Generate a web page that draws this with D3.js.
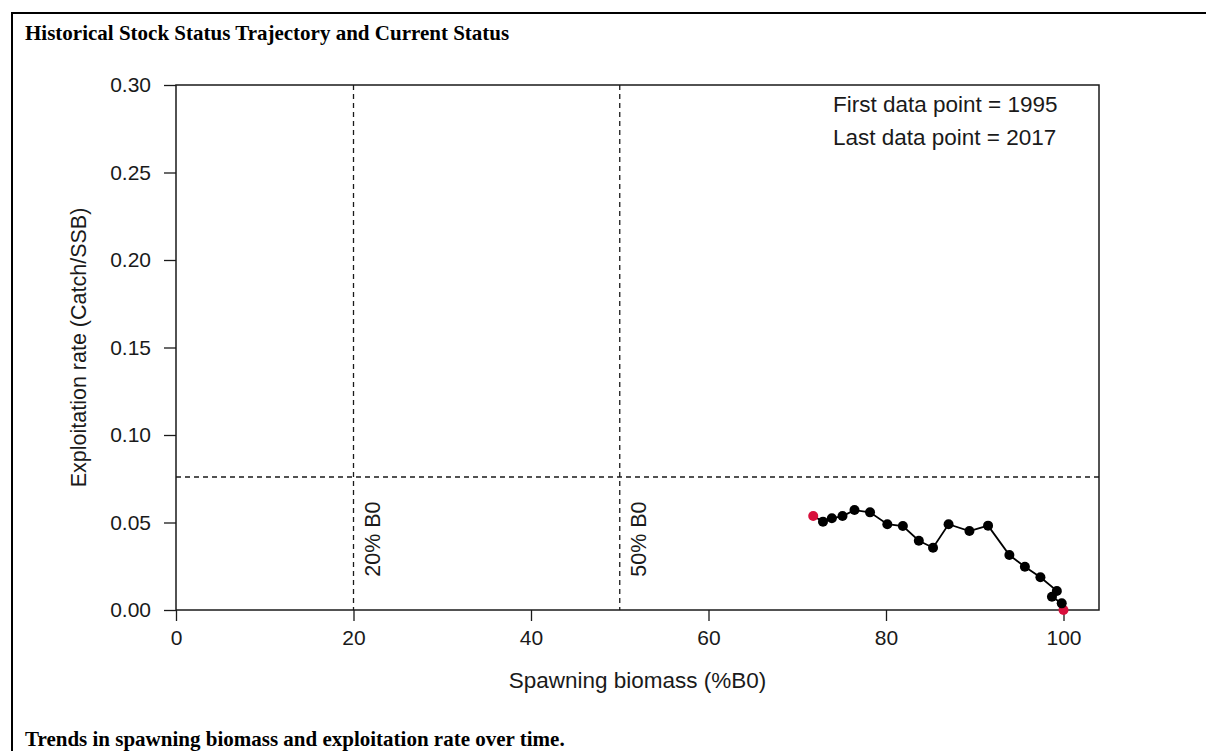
<!DOCTYPE html>
<html>
<head>
<meta charset="utf-8">
<script src="https://cdn.jsdelivr.net/npm/d3@7"></script>
<style>
  html, body { margin: 0; padding: 0; background: #fff; }
  svg { display: block; }
</style>
</head>
<body>
<svg id="chart" width="1206" height="751"></svg>
<script>
// ---- data ----
const years = [1995, 2017];
const spawningBiomass = [100.0, 99.8, 98.7, 99.25, 97.4, 95.65, 93.9, 91.5, 89.4, 87.05, 85.3, 83.7, 81.9, 80.15, 78.2, 76.45, 75.1, 73.9, 72.9, 71.8];
const exploitationRate = [0.0, 0.0038, 0.0076, 0.0109, 0.0187, 0.0247, 0.0314, 0.0482, 0.0451, 0.049, 0.0356, 0.0396, 0.048, 0.049, 0.0558, 0.0571, 0.0537, 0.0524, 0.0505, 0.0537];
const xTicks = [0, 20, 40, 60, 80, 100];
const yTicks = [0.00, 0.05, 0.10, 0.15, 0.20, 0.25, 0.30];
const refBiomass = [20, 50];
const refLabels = ["20% B0", "50% B0"];
const refExploitation = [0.076];
const legendLines = ["First data point = " + years[0], "Last data point = " + years[1]];
const title = "Historical Stock Status Trajectory and Current Status";
const caption = "Trends in spawning biomass and exploitation rate over time.";
const xLabel = "Spawning biomass (%B0)";
const yLabel = "Exploitation rate (Catch/SSB)";

// ---- layout ----
const svg = d3.select("#chart");
const L = 176, R = 1099, T = 85, B = 610;
const x = d3.scaleLinear().domain([0, 104]).range([L, R]);
const y = d3.scaleLinear().domain([0, 0.30]).range([B, T]);
const sans = "'Liberation Sans', Arial, sans-serif";
const serif = "'Liberation Serif', 'Times New Roman', serif";
const ink = "#1a1a1a";
const fsTick = 21, fsLab = 21.5;

// outer frame (left + top only visible)
svg.append("path").attr("d", "M12,751 L12,13 L1206,13")
  .attr("fill", "none").attr("stroke", "#000").attr("stroke-width", 2);

svg.append("text").attr("x", 25).attr("y", 40)
  .attr("font-family", serif).attr("font-weight", "bold").attr("font-size", 21)
  .text(title);
svg.append("text").attr("x", 25).attr("y", 746)
  .attr("font-family", serif).attr("font-weight", "bold").attr("font-size", 21)
  .text(caption);

// reference lines
svg.selectAll("line.vref").data(refBiomass).join("line")
  .attr("x1", d => x(d)).attr("x2", d => x(d)).attr("y1", T).attr("y2", B)
  .attr("stroke", ink).attr("stroke-width", 1.3).attr("stroke-dasharray", "5,4");
svg.selectAll("line.href").data(refExploitation).join("line")
  .attr("x1", L).attr("x2", R).attr("y1", d => y(d)).attr("y2", d => y(d))
  .attr("stroke", ink).attr("stroke-width", 1.3).attr("stroke-dasharray", "5,4");

svg.selectAll("text.ref").data(refBiomass).join("text")
  .attr("transform", d => `translate(${x(d) + 26},${y(0.019)}) rotate(-90)`)
  .attr("font-family", sans).attr("font-size", fsLab).attr("fill", ink)
  .text((d, i) => refLabels[i]);

// axes
const xAxis = svg.append("g").attr("transform", `translate(0,${B})`)
  .call(d3.axisBottom(x).tickValues(xTicks).tickFormat(d3.format("d")).tickSize(11).tickPadding(9));
const yAxis = svg.append("g").attr("transform", `translate(${L},0)`)
  .call(d3.axisLeft(y).tickValues(yTicks).tickFormat(d3.format(".2f")).tickSize(12).tickPadding(13));
[xAxis, yAxis].forEach(g => {
  g.select(".domain").remove();
  g.selectAll("line").attr("stroke", ink).attr("stroke-width", 1.3);
  g.selectAll("text").attr("font-family", sans).attr("font-size", fsTick).attr("fill", ink);
});

// plot box
svg.append("rect").attr("x", L).attr("y", T).attr("width", R - L).attr("height", B - T)
  .attr("fill", "none").attr("stroke", ink).attr("stroke-width", 1.5);

// axis titles
svg.append("text").attr("x", (L + R) / 2).attr("y", 688).attr("text-anchor", "middle")
  .attr("font-family", sans).attr("font-size", 22.5).attr("fill", ink).text(xLabel);
svg.append("text").attr("transform", `translate(86,${(T + B) / 2}) rotate(-90)`)
  .attr("text-anchor", "middle")
  .attr("font-family", sans).attr("font-size", fsLab).attr("fill", ink).text(yLabel);

// legend text
svg.selectAll("text.leg").data(legendLines).join("text")
  .attr("x", 833).attr("y", (d, i) => 112 + i * 33)
  .attr("font-family", sans).attr("font-size", 22.5).attr("fill", ink)
  .text(d => d);

// trajectory
const pts = spawningBiomass.map((b, i) => ({ b, e: exploitationRate[i], i }));
svg.append("path").datum(pts)
  .attr("d", d3.line().x(d => x(d.b)).y(d => y(d.e)))
  .attr("fill", "none").attr("stroke", "#000").attr("stroke-width", 1.8);
const n = pts.length;
svg.selectAll("circle.pt").data(pts).join("circle")
  .attr("cx", d => x(d.b)).attr("cy", d => y(d.e)).attr("r", 5)
  .attr("fill", d => (d.i === 0 || d.i === n - 1) ? "#d8103c" : "#000");
</script>
</body>
</html>
